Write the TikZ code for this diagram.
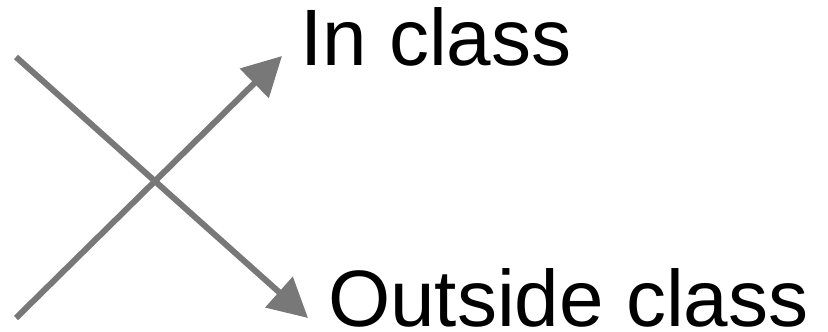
\documentclass[tikz,border=0pt]{standalone}
\usepackage{fontspec}
\setmainfont{Liberation Sans}
\usetikzlibrary{arrows.meta}
\definecolor{arrowgray}{RGB}{120,120,120}
\tikzset{
  cross/.style={draw=arrowgray, line width=6pt, -{Triangle[length=39pt,width=40pt]}},
  lbl/.style={anchor=base west, inner sep=0pt, font=\fontsize{80pt}{96pt}\selectfont, text=black}
}
\begin{document}
\begin{tikzpicture}[x=1pt,y=1pt]
\useasboundingbox (0,0) rectangle (828,332);
\coordinate (s1) at (16,14);
\coordinate (t1) at (282,276);
\coordinate (s2) at (16,275);
\coordinate (t2) at (308,14);
\node[lbl] (inclass) at (300,266) {In class};
\node[lbl] (outside) at (328,5) {Outside class};
\draw[cross] (s1) -- (t1);
\draw[cross] (s2) -- (t2);
\end{tikzpicture}
\end{document}
